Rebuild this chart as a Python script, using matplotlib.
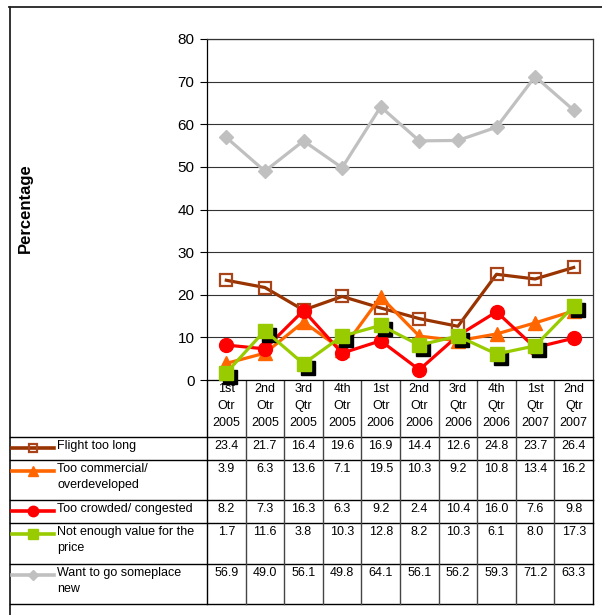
import matplotlib
matplotlib.use("Agg")
import matplotlib.pyplot as plt
from matplotlib.lines import Line2D
from matplotlib.transforms import offset_copy

plt.rcParams['font.family'] = ['Liberation Sans', 'DejaVu Sans']

quarters = ["1st\nOtr\n2005", "2nd\nOtr\n2005", "3rd\nQtr\n2005", "4th\nOtr\n2005",
            "1st\nOtr\n2006", "2nd\nOtr\n2006", "3rd\nQtr\n2006", "4th\nQtr\n2006",
            "1st\nQtr\n2007", "2nd\nQtr\n2007"]

series_names = ["Flight too long", "Too commercial/\noverdeveloped",
                "Too crowded/ congested", "Not enough value for the\nprice",
                "Want to go someplace\nnew"]

flight_too_long = [23.4, 21.7, 16.4, 19.6, 16.9, 14.4, 12.6, 24.8, 23.7, 26.4]
too_commercial = [3.9, 6.3, 13.6, 7.1, 19.5, 10.3, 9.2, 10.8, 13.4, 16.2]
too_crowded = [8.2, 7.3, 16.3, 6.3, 9.2, 2.4, 10.4, 16.0, 7.6, 9.8]
not_enough_value = [1.7, 11.6, 3.8, 10.3, 12.8, 8.2, 10.3, 6.1, 8.0, 17.3]
someplace_new = [56.9, 49.0, 56.1, 49.8, 64.1, 56.1, 56.2, 59.3, 71.2, 63.3]

all_values = [flight_too_long, too_commercial, too_crowded, not_enough_value, someplace_new]

styles = [
    dict(color='#993300', marker='s', ms=8.5, mfc='none', mec='#A8441A', mew=1.6),
    dict(color='#FF6600', marker='^', ms=10, mfc='#FF6600', mec='#FF6600'),
    dict(color='#FF0000', marker='o', ms=10, mfc='#FF0000', mec='#FF0000'),
    dict(color='#99CC00', marker='s', ms=10, mfc='#99CC00', mec='#99CC00'),
    dict(color='#C0C0C0', marker='D', ms=7, mfc='#C0C0C0', mec='#C0C0C0'),
]

W, H = 602, 615
fig = plt.figure(figsize=(W / 100, H / 100), dpi=100)

# pixel-space overlay for frame and data table
bg = fig.add_axes([0, 0, 1, 1])
bg.set_xlim(0, W)
bg.set_ylim(H, 0)
bg.axis('off')

x_left, x_right = 207, 593
y_top, y_base = 39, 380
n = len(quarters)
col_w = (x_right - x_left) / n

ax = fig.add_axes([x_left / W, 1 - y_base / H, (x_right - x_left) / W, (y_base - y_top) / H])
ax.set_xlim(0, n)
ax.set_ylim(0, 80)
ax.set_yticks(range(0, 81, 10))
ax.tick_params(axis='y', labelsize=11, length=5, width=0.8, direction='out', pad=4)
ax.set_xticks([])
ax.yaxis.grid(True, color='#333333', linewidth=0.8)
ax.set_axisbelow(True)
for s in ['top', 'right']:
    ax.spines[s].set_color('#333333')
ax.spines['left'].set_color('black')
ax.spines['bottom'].set_color('black')
for s in ax.spines.values():
    s.set_linewidth(0.9)

xs = [i + 0.5 for i in range(n)]
shadow = offset_copy(ax.transData, fig=fig, x=4, y=-4, units='dots')
for k, (vals, st) in enumerate(zip(all_values, styles)):
    if k == 3:
        ax.plot(xs, vals, linestyle='none', marker='s', ms=10, color='black',
                transform=shadow, zorder=3 + k - 0.5, clip_on=False)
    ax.plot(xs, vals, lw=2.3, zorder=3 + k, clip_on=False, **st)

fig.text(25 / W, 1 - 208 / H, "Percentage", rotation=90, fontsize=12,
         fontweight='bold', ha='center', va='center')

# outer frame
lc = 'black'
bg.plot([9, W], [7, 7], color='#222222', lw=1.3)
bg.plot([9.5, 9.5], [7, H], color='#222222', lw=1.3)

# table grid
row_edges = [437, 460, 500, 523, 564, 604]
for y in row_edges:
    bg.plot([10, x_right], [y, y], color=lc, lw=1.0)
for i in range(n + 1):
    x = x_left + i * col_w
    bg.plot([x, x], [y_base, row_edges[-1]], color=lc if i in (0, n) else '#444444', lw=1.0)

# column headers
for i, q in enumerate(quarters):
    bg.text(x_left + (i + 0.5) * col_w, 383, q, ha='center', va='top',
            fontsize=9, linespacing=1.55)

# row labels, legend keys and values
for r, (name, vals, st) in enumerate(zip(series_names, all_values, styles)):
    top = row_edges[r]
    ty = top + 3
    ly = top + 11
    key = dict(st)
    key['ms'] = key['ms'] * 0.75
    bg.add_line(Line2D([12, 33, 54], [ly, ly, ly], lw=2.6, markevery=[1], **key))
    bg.text(57, ty, name, ha='left', va='top', fontsize=9, linespacing=1.45)
    for i, v in enumerate(vals):
        bg.text(x_left + (i + 0.5) * col_w, ty, f"{v:.1f}", ha='center', va='top',
                fontsize=9)

fig.savefig("out.png", dpi=100)
